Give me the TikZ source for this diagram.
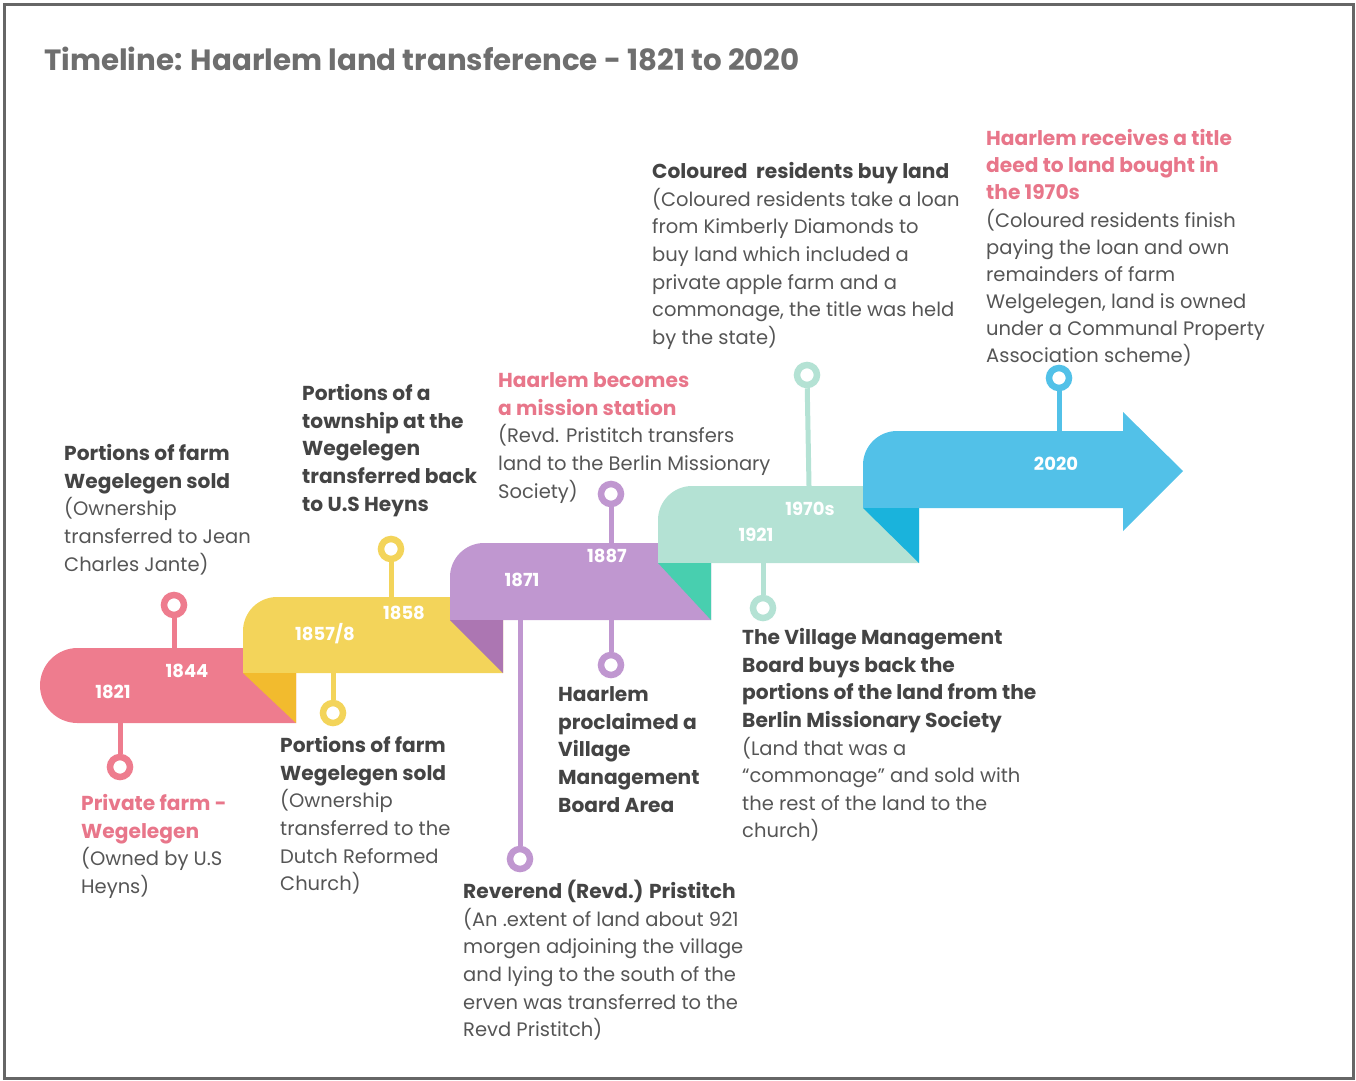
\documentclass[tikz,border=0pt]{standalone}
\usepackage{fontspec}
\setmainfont{Poppins}[BoldFeatures={Scale=1.035}]
\definecolor{cpink}{HTML}{EE7C8E}
\definecolor{cyellow}{HTML}{F3D45A}
\definecolor{dyellow}{HTML}{F2BB2E}
\definecolor{cpurple}{HTML}{C097D0}
\definecolor{dpurple}{HTML}{AC76B2}
\definecolor{cmint}{HTML}{B4E2D4}
\definecolor{dmint}{HTML}{48CFAF}
\definecolor{cblue}{HTML}{52C1E8}
\definecolor{dblue}{HTML}{1AB3DC}
\definecolor{hdgray}{HTML}{444444}
\definecolor{bodygray}{HTML}{555555}
\definecolor{titlegray}{HTML}{6E6E6E}
\definecolor{hdpink}{HTML}{E8768A}
\definecolor{framegray}{HTML}{666666}
\newcommand\hd[1]{{\bfseries\color{hdgray}#1}}
\newcommand\pk[1]{{\bfseries\color{hdpink}#1}}
\tikzset{
  pin/.style={circle, draw=#1, fill=white, line width=6.5pt, minimum size=20pt, inner sep=0pt},
  stem/.style={draw=#1, line width=5pt},
  yr/.style={text=white, font=\fontsize{17.4}{18}\selectfont\bfseries, inner sep=0pt},
  txt/.style={anchor=north west, inner sep=0pt, align=left, text=bodygray, font=\fontsize{19.5}{#1}\selectfont},
  txt/.default=27.6
}
\begin{document}
\begin{tikzpicture}[x=1pt,y=-1pt]
\useasboundingbox (0,0) rectangle (1356,1080);
\draw[framegray, line width=3pt] (4,4) rectangle (1353,1078);

\node[anchor=base west, inner sep=0pt, text=titlegray, font=\fontsize{28.3}{30}\selectfont\bfseries] (title) at (44,70) {Timeline: Haarlem land transference - 1821 to 2020};

% ribbons
\fill[cpink] (296,648) -- (77.5,648) arc[start angle=270, end angle=90, radius=37.5] -- (296,723) -- cycle;
\fill[cyellow] (503,597) -- (277,597) arc[start angle=270, end angle=180, radius=34] -- (243,673) -- (503,673) -- cycle;
\fill[dyellow] (243,673) -- (296,673) -- (296,723) -- cycle;
\fill[cpurple] (711,543) -- (484,543) arc[start angle=270, end angle=180, radius=34] -- (450,620) -- (711,620) -- cycle;
\fill[dpurple] (450,620) -- (503,620) -- (503,673) -- cycle;
\fill[cmint] (919,486) -- (692,486) arc[start angle=270, end angle=180, radius=34] -- (658,563) -- (919,563) -- cycle;
\fill[dmint] (658,563) -- (711,563) -- (711,620) -- cycle;
\fill[cblue] (1123,431) -- (1123,412) -- (1183,471) -- (1123,531) -- (1123,508) -- (863,508) -- (863,465) arc[start angle=180, end angle=270, radius=34] -- cycle;
\fill[dblue] (863,508) -- (919,508) -- (919,563) -- cycle;

% stem end coordinates
\coordinate (e1) at (174,648);
\coordinate (e2) at (120,723);
\coordinate (e3) at (391,597);
\coordinate (e4) at (333,673);
\coordinate (e5) at (611,543);
\coordinate (e6) at (611,620);
\coordinate (e7) at (520,620);
\coordinate (e8) at (809,486);
\coordinate (e9) at (763,563);
\coordinate (e10) at (1059,431);

% pins
\node[pin=cpink] (p1) at (174,605) {};
\node[pin=cpink] (p2) at (120,767) {};
\node[pin=cyellow] (p3) at (391,549) {};
\node[pin=cyellow] (p4) at (333,713) {};
\node[pin=cpurple] (p5) at (611,494) {};
\node[pin=cpurple] (p6) at (611,665) {};
\node[pin=cpurple] (p7) at (520,859) {};
\node[pin=cmint] (p8) at (807,375) {};
\node[pin=cmint] (p9) at (763,608) {};
\node[pin=cblue] (p10) at (1059,378) {};
\draw[stem=cpink] (p1) -- (e1);
\draw[stem=cpink] (p2) -- (e2);
\draw[stem=cyellow] (p3) -- (e3);
\draw[stem=cyellow] (p4) -- (e4);
\draw[stem=cpurple] (p5) -- (e5);
\draw[stem=cpurple] (p6) -- (e6);
\draw[stem=cpurple] (p7) -- (e7);
\draw[stem=cmint] (p8) -- (e8);
\draw[stem=cmint] (p9) -- (e9);
\draw[stem=cblue] (p10) -- (e10);

% year labels
\node[yr] (y1821) at (113,692) {1821};
\node[yr] (y1844) at (187,671) {1844};
\node[yr] (y18578) at (325,634) {1857/8};
\node[yr] (y1858) at (404,613) {1858};
\node[yr] (y1871) at (522,580) {1871};
\node[yr] (y1887) at (607,556) {1887};
\node[yr] (y1921) at (756,535) {1921};
\node[yr] (y1970s) at (810,509) {1970s};
\node[yr] (y2020) at (1056,464) {2020};

% text blocks
\node[txt] (tA) at (81,786.5) {\rule{0pt}{24pt}\pk{Private farm -}\\\pk{Wegelegen}\\(Owned by U.S\\Heyns)};
\node[txt] (tB) at (64,436.5) {\rule{0pt}{24pt}\hd{Portions of farm}\\\hd{Wegelegen sold}\\(Ownership\\transferred to Jean\\Charles Jante)};
\node[txt] (tC) at (302,376.5) {\rule{0pt}{24pt}\hd{Portions of a}\\\hd{township at the}\\\hd{Wegelegen}\\\hd{transferred back}\\\hd{to U.S Heyns}};
\node[txt] (tD) at (280,728.5) {\rule{0pt}{24pt}\hd{Portions of farm}\\\hd{Wegelegen sold}\\(Ownership\\transferred to the\\Dutch Reformed\\Church)};
\node[txt] (tE) at (498,363.5) {\rule{0pt}{24pt}\pk{Haarlem becomes}\\\pk{a mission station}\\(Revd. Pristitch transfers\\land to the Berlin Missionary\\Society)};
\node[txt] (tF) at (558,677.5) {\rule{0pt}{24pt}\hd{Haarlem}\\\hd{proclaimed a}\\\hd{Village}\\\hd{Management}\\\hd{Board Area}};
\node[txt] (tG) at (463,874.5) {\rule{0pt}{24pt}\hd{Reverend (Revd.) Pristitch}\\(An .extent of land about 921\\morgen adjoining the village\\and lying to the south of the\\erven was transferred to the\\Revd Pristitch)};
\node[txt] (tH) at (652,154.5) {\rule{0pt}{24pt}\hd{Coloured\ \ residents buy land}\\(Coloured residents take a loan\\from Kimberly Diamonds to\\buy land which included a\\private apple farm and a\\commonage, the title was held\\by the state)};
\node[txt] (tI) at (742,620.5) {\rule{0pt}{24pt}\hd{The Village Management}\\\hd{Board buys back the}\\\hd{portions of the land from the}\\\hd{Berlin Missionary Society}\\(Land that was a\\“commonage” and sold with\\the rest of the land to the\\church)};
\node[txt=27.1] (tJ) at (986,121.5) {\rule{0pt}{24pt}\pk{Haarlem receives a title}\\\pk{deed to land bought in}\\\pk{the 1970s}\\(Coloured residents finish\\paying the loan and own\\remainders of farm\\Welgelegen, land is owned\\under a Communal Property\\Association scheme)};
\end{tikzpicture}
\end{document}
